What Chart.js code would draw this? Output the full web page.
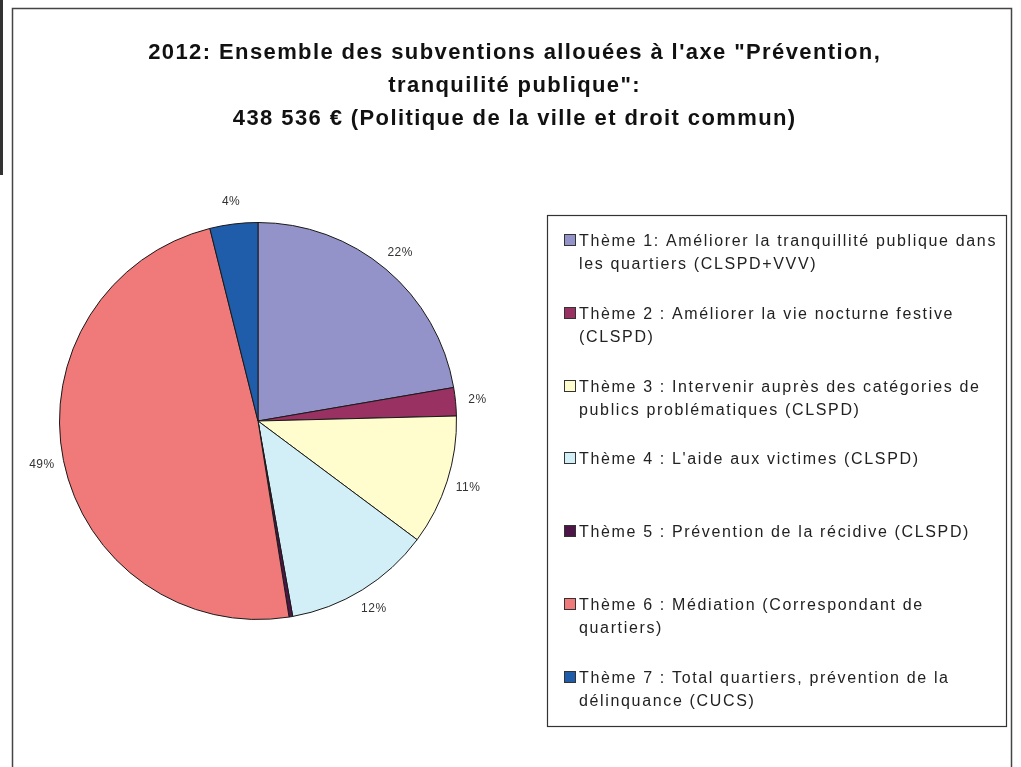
<!DOCTYPE html>
<html><head><meta charset="utf-8">
<script src="https://cdn.jsdelivr.net/npm/chart.js@4.4.1/dist/chart.umd.min.js"></script>
<style>html,body{margin:0;padding:0;background:#fff;overflow:hidden}#wrap{position:relative;width:1021px;height:767px}</style>
</head><body><div id="wrap"><canvas id="c"></canvas></div>
<script>
// ---- data ----
const titleLines = [
  '2012: Ensemble des subventions allouées à l\'axe "Prévention,',
  'tranquilité publique":',
  '438 536 € (Politique de la ville et droit commun)'
];
const categories = [
  ['Thème 1: Améliorer la tranquillité publique dans', 'les quartiers (CLSPD+VVV)'],
  ['Thème 2 : Améliorer la vie nocturne festive', '(CLSPD)'],
  ['Thème 3 : Intervenir auprès des catégories de', 'publics problématiques (CLSPD)'],
  ['Thème 4 : L\'aide aux victimes (CLSPD)'],
  ['Thème 5 : Prévention de la récidive (CLSPD)'],
  ['Thème 6 : Médiation (Correspondant de', 'quartiers)'],
  ['Thème 7 : Total quartiers, prévention de la', 'délinquance (CUCS)']
];
const sharePercent = [22.3, 2.3, 10.6, 12.0, 0.3, 48.6, 3.9];
const sliceColors = ['#9393C9', '#993163', '#FFFCCE', '#D2EEF6', '#4E1549', '#F07979', '#1F5DAA'];

// ---- plugins ----
const framePlugin = {
  id: 'frame',
  beforeDraw(chart) {
    const ctx = chart.ctx;
    ctx.save();
    ctx.fillStyle = '#fff';
    ctx.fillRect(0, 0, chart.width, chart.height);
    ctx.strokeStyle = '#444';
    ctx.lineWidth = 1.5;
    ctx.strokeRect(12.5, 8.5, 999, 800);
    ctx.fillStyle = '#333';
    ctx.fillRect(0, 0, 3, 175);
    // title
    ctx.fillStyle = '#111';
    ctx.font = 'bold 22px "Liberation Sans", Arial, sans-serif';
    ctx.textAlign = 'center';
    ctx.textBaseline = 'alphabetic';
    const sp = 1.4;
    if ('letterSpacing' in ctx) ctx.letterSpacing = sp + 'px';
    const baselines = [59, 92, 125];
    titleLines.forEach((t, i) => ctx.fillText(t, 514 + sp / 2, baselines[i]));
    ctx.restore();
  }
};

const sliceLabelPlugin = {
  id: 'sliceLabels',
  afterDatasetsDraw(chart) {
    const ctx = chart.ctx;
    const meta = chart.getDatasetMeta(0);
    const vals = chart.data.datasets[0].data;
    const total = vals.reduce((a, b) => a + b, 0);
    ctx.save();
    ctx.font = '12px "Liberation Sans", Arial, sans-serif';
    if ('letterSpacing' in ctx) ctx.letterSpacing = '0.5px';
    ctx.fillStyle = '#333';
    ctx.textAlign = 'center';
    ctx.textBaseline = 'middle';
    meta.data.forEach((arc, i) => {
      const pct = Math.round(vals[i] / total * 100);
      if (pct === 0) return;
      const p = arc.getProps(['x', 'y', 'startAngle', 'endAngle', 'outerRadius'], true);
      const mid = (p.startAngle + p.endAngle) / 2;
      const r = p.outerRadius + 22;
      ctx.fillText(pct + '%', p.x + Math.cos(mid) * r, p.y + Math.sin(mid) * r);
    });
    ctx.restore();
  }
};

const boxLegendPlugin = {
  id: 'boxLegend',
  afterDraw(chart) {
    const ctx = chart.ctx;
    const labels = chart.data.labels;
    const colors = chart.data.datasets[0].backgroundColor;
    const left = 547, top = 215, right = 1006, bottom = 726;
    ctx.save();
    ctx.strokeStyle = '#333';
    ctx.lineWidth = 1.2;
    ctx.strokeRect(left + 0.5, top + 0.5, right - left, bottom - top);
    ctx.font = '16px "Liberation Sans", Arial, sans-serif';
    if ('letterSpacing' in ctx) ctx.letterSpacing = '1.65px';
    ctx.textBaseline = 'alphabetic';
    ctx.textAlign = 'left';
    const startY = 246, pitch = 72.8, lineH = 23;
    labels.forEach((lines, i) => {
      const y = Math.round(startY + pitch * i);
      ctx.fillStyle = colors[i];
      ctx.fillRect(564, y - 12, 12, 12);
      ctx.lineWidth = 1;
      ctx.strokeStyle = '#333';
      ctx.strokeRect(564.5, y - 11.5, 11, 11);
      ctx.fillStyle = '#222';
      lines.forEach((t, k) => ctx.fillText(t, 579, y + k * lineH));
    });
    ctx.restore();
  }
};

new Chart(document.getElementById('c'), {
  type: 'pie',
  data: {
    labels: categories,
    datasets: [{
      data: sharePercent,
      backgroundColor: sliceColors,
      borderColor: '#1a1a1a',
      borderWidth: 1
    }]
  },
  options: {
    responsive: true,
    maintainAspectRatio: false,
    animation: false,
    events: [],
    layout: { padding: { left: 59, right: 564, top: 222, bottom: 147 } },
    plugins: {
      legend: { display: false },
      tooltip: { enabled: false },
      title: { display: false }
    }
  },
  plugins: [framePlugin, sliceLabelPlugin, boxLegendPlugin]
});
</script>
</body></html>
